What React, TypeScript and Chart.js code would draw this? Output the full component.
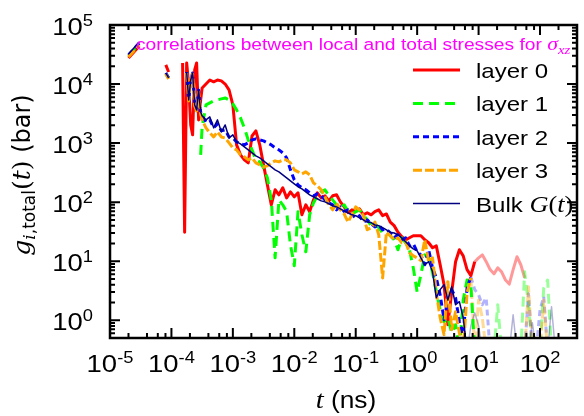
import React, { useEffect, useRef } from "react";
import { Chart, registerables } from "chart.js";

Chart.register(...registerables);

// ---------- data (time in ns, correlation in bar) ----------
const timeNs = [
  2.0e-5, 3.0e-5, 4.0e-5, 8.1e-5, 9.0e-5, 1.2e-4,
  1.52e-4, 1.64e-4, 1.77e-4, 1.91e-4, 2.06e-4, 2.21e-4, 2.39e-4, 2.57e-4, 2.77e-4, 2.99e-4,
  3.16e-4, 3.65e-4, 4.22e-4, 4.87e-4, 5.62e-4, 6.49e-4, 7.5e-4, 8.66e-4,
  1.0e-3, 1.15e-3, 1.33e-3, 1.54e-3, 1.78e-3, 2.05e-3, 2.37e-3, 2.74e-3, 3.16e-3, 3.65e-3, 4.22e-3, 4.87e-3, 5.62e-3, 6.49e-3, 7.5e-3, 8.66e-3,
  1.0e-2, 1.15e-2, 1.33e-2, 1.54e-2, 1.78e-2, 2.05e-2, 2.37e-2, 2.74e-2, 3.16e-2, 3.65e-2, 4.22e-2, 4.87e-2, 5.62e-2, 6.49e-2, 7.5e-2, 8.66e-2,
  0.1, 0.115, 0.133, 0.154, 0.178, 0.205, 0.237, 0.274, 0.316, 0.365, 0.422, 0.487, 0.562, 0.649, 0.75, 0.866,
  1.0, 1.15, 1.33, 1.54, 1.78, 2.05, 2.37, 2.74, 3.16, 3.65, 4.22, 4.87, 5.62, 6.49, 7.5, 8.66,
];

const layer0 = [
  27700, 44200, null, 21100, 16000, null,
  22800, 31, 22800, 9660, 2030, 1380, 17300, 22800, 2470, 5390,
  8590, 10000, 11700, 10900, 11700, 11300, 10000, 7950,
  4430, 933, 631, 520, 462, 1320, 1610, 933, 428, 196, 90, 162, 133, 175, 118, 149,
  123, 144, 61, 90, 69, 109, 144, 118, 128, 105, 128, 133, 101, 83, 66, 74,
  69, 77, 61, 66, 61, 69, 74, 59, 63, 46, 40, 31, 26, 23, 24.9, 27,
  27, 27, 23, 20.5, 16.9, 18.2, 8.7, 4.0, 0.84, 3.0, 9.8, 15.6, 12.3, 7.2, 5.7, 9.8,
];

const layer1 = [
  29900, 47700, null, 14800, 12700, null,
  null, null, null, null, null, null, null, null, null, 631,
  1880, 4430, 4790, 5180, 5390, 5600, 5820, 5390,
  4610, 3650, 2670, 1810, 1130, 767, 520, 481, 380, 258, 109, 11.4, 109, 90, 69, 18.9,
  8.4, 69, 28, 14.4, 61, 97, 128, 149, 162, 128, 109, 90, 80, 90, 69, 63,
  69, 74, 61, 50, 40, 43, 37, 30, 31, 27, 23, 15.6, 24.9, 20.5, 15.6, 7.7,
  3.0, 5.9, 12.8, 11.4, 6.4, 3.0, 1.5, 0.94, 1.1, 0.61, 0.84, 0.3, 2.2, 4.8, 3.8, 0.3,
];

const layer2 = [
  31000, 49600, null, 15400, 12700, null,
  null, null, 16000, 5390, 11700, 15400, 4430, 3650, 7950, 3370,
  2890, 2290, 2470, 1810, 2110, 1610, 1670, 1270,
  1220, 1050, 970, 933, 1010, 1130, 1180, 1130, 1090, 1010, 933, 830, 767, 682, 562, 352,
  238, 196, 175, 162, 144, 128, 138, 128, 109, 97, 90, 74, 83, 69, 74, 61,
  54, 59, 46, 50, 43, 38, 41, 34, 35, 30, 24.9, 28, 23, 24.9, 18.2, 19.7,
  14.4, 12.8, 8.7, 15.6, 7.7, 5.2, 2.7, 1.02, 2.2, 3.3, 2.4, 0.94, 0.57, 3.5, 5.4, null,
];

const layer3 = [
  28800, 45900, null, 14800, 12200, null,
  null, null, 15400, 5180, 11300, 14800, 4260, 3510, 7350, 3120,
  2470, 1810, 1490, 1270, 1550, 1270, 1220, 1010,
  830, 767, 631, 584, 520, 562, 462, 428, 395, 411, 462, 500, 481, 520, 520, 462,
  352, 326, 301, 326, 290, 212, 189, 162, 123, 90, 74, 97, 74, 63, 46, 61,
  83, 74, 59, 34, 37, 46, 28, 5.2, 31, 27, 23, 24.9, 20.5, 21.3, 13.9, 12.3,
  11.4, 10.2, 23, 9.8, 11.4, 2.9, 1.1, 0.57, 4.5, 0.69, 1.39, 0.61, 0.3, 2.9, 5.2, null,
];

const bulkG = [
  32300, 51500, null, 15400, 12700, null,
  null, null, 16000, 5390, 11700, 15400, 4430, 3650, 7950, 3370,
  2890, 2470, 2780, 1810, 2470, 1550, 2030, 1220,
  1380, 1050, 970, 863, 767, 682, 607, 562, 500, 445, 395, 352, 326, 290, 258, 229,
  204, 182, 168, 149, 133, 123, 114, 105, 101, 94, 87, 83, 77, 71, 66, 61,
  59, 54, 50, 46, 45, 41, 40, 37, 34, 31, 30, 28, 24.9, 21.3, 18.2, 16.2,
  15.0, 11.4, 8.7, 9.8, 6.6, 2.4, 3.3, 4.0, 2.2, 3.7, 1.83, 2.06, 1.1, 0.3, null, null,
];

// long-time (poorly converged) tails, drawn faded
const tailTimeNs = [
  6.49, 7.5, 8.66, 10, 11.5, 13.3, 15.4, 17.8, 20.5, 23.7, 27.4, 31.6, 36.5,
  42.2, 48.7, 56.2, 64.9, 75, 86.6, 100, 115, 133, 154, 178, 205,
];
const layer0Tail = [null, null, 9.8, 11.4, 12.8, 9.8, 7.2, 6.1, 7.7, 6.6, 4.8, 4.1, 7.2, 11.9, 8.7, 5.2, null, null, null, null, null, null, null, null, null];
const layer1Tail = [null, null, 0.3, 0.3, 0.3, 0.3, 0.3, 0.3, 1.83, 0.3, 0.3, 0.3, 0.3, 0.3, 0.3, 6.6, 1.83, 0.3, 0.3, 0.3, 3.5, 4.8, 0.3, null, null];
const layer2Tail = [null, 5.4, 3.3, 2.7, 1.83, 2.4, 0.3, 0.3, 0.3, 0.3, 0.3, 0.3, 0.3, 0.3, 0.3, 0.3, 2.8, 0.3, 0.3, 1.5, 2.5, 0.3, 0.3, null, null];
const layer3Tail = [null, 5.2, 0.3, 2.2, 1.1, 0.3, 0.3, 0.3, 0.3, 0.3, 0.3, 0.3, 0.3, 0.3, 0.3, 0.3, 3.7, 0.3, 0.3, 0.3, 2.2, 0.3, null, null, null];
const bulkTail = [0.3, 0.81, 1.34, 0.81, 0.3, 0.3, 0.3, 0.3, 0.3, 0.3, 0.3, 0.3, 1.24, 0.3, 0.3, 0.3, 0.3, 0.91, 0.3, 0.3, 0.3, 0.3, 1.69, 0.3, null];

const xTickExponents = [-5, -4, -3, -2, -1, 0, 1, 2];
const yTickExponents = [0, 1, 2, 3, 4, 5];
const xMinorMultipliers = [2, 4, 6, 8];
const yMinorMultipliers = [2, 3, 4, 5, 6, 7, 8, 9];
const seriesLabels = ["layer 0", "layer 1", "layer 2", "layer 3", "Bulk "];
const titleText = "correlations between local and total stresses for ";

// ---------- styles ----------
const SANS = '"Liberation Sans", Arial, sans-serif';
const MATH = '"Liberation Serif", serif';
const DSANS = '"DejaVu Sans", sans-serif';
const DSERIF = '"DejaVu Serif", serif';
const SX = 1.145; // horizontal stretch of the text in the picture
const seriesStyles = [
  { color: "#ff0000", faded: "rgba(255,0,0,0.4)", dash: [] as number[], width: 3 },
  { color: "#00ff00", faded: "rgba(0,255,0,0.4)", dash: [10, 6], width: 3 },
  { color: "#0000ff", faded: "rgba(0,0,255,0.3)", dash: [6, 4], width: 3 },
  { color: "#ffa500", faded: "rgba(255,165,0,0.4)", dash: [9, 3], width: 3 },
  { color: "#000080", faded: "rgba(0,0,128,0.3)", dash: [] as number[], width: 1.5 },
];

type Run = { t: string; font: string; dy?: number };

function runsWidth(ctx: CanvasRenderingContext2D, runs: Run[], sx = 1) {
  let w = 0;
  for (const r of runs) {
    ctx.font = r.font;
    w += ctx.measureText(r.t).width;
  }
  return w * sx;
}
function drawRuns(ctx: CanvasRenderingContext2D, runs: Run[], x: number, y: number, sx = 1) {
  ctx.save();
  ctx.translate(x, y);
  ctx.scale(sx, 1);
  let cx = 0;
  for (const r of runs) {
    ctx.font = r.font;
    ctx.fillText(r.t, cx, r.dy || 0);
    cx += ctx.measureText(r.t).width;
  }
  ctx.restore();
  return x + cx * sx;
}

const overlay = {
  id: "overlay",
  afterDraw(chart: any) {
    const ctx: CanvasRenderingContext2D = chart.ctx;
    const xs = chart.scales.x;
    const ys = chart.scales.y;
    const { left, right, top, bottom } = chart.chartArea;
    ctx.save();
    ctx.strokeStyle = "#000";
    ctx.fillStyle = "#000";
    ctx.textBaseline = "alphabetic";
    ctx.textAlign = "left";

    // ticks (inward, mirrored)
    ctx.lineWidth = 2;
    ctx.setLineDash([]);
    ctx.beginPath();
    const xTick = (v: number, len: number) => {
      const p = xs.getPixelForValue(v);
      if (p < left - 0.5 || p > right + 0.5) return;
      ctx.moveTo(p, bottom);
      ctx.lineTo(p, bottom - len);
      ctx.moveTo(p, top);
      ctx.lineTo(p, top + len);
    };
    const yTick = (v: number, len: number) => {
      const p = ys.getPixelForValue(v);
      if (p < top - 0.5 || p > bottom + 0.5) return;
      ctx.moveTo(left, p);
      ctx.lineTo(left + len, p);
      ctx.moveTo(right, p);
      ctx.lineTo(right - len, p);
    };
    for (const e of xTickExponents) {
      xTick(Math.pow(10, e), 10);
      for (const m of xMinorMultipliers) xTick(m * Math.pow(10, e), 5);
    }
    for (const e of [-1, ...yTickExponents]) {
      if (e >= 0) yTick(Math.pow(10, e), 10);
      for (const m of yMinorMultipliers) yTick(m * Math.pow(10, e), 5);
    }
    ctx.stroke();

    // frame
    ctx.lineWidth = 2.5;
    ctx.strokeRect(left, top, right - left, bottom - top);

    // tick labels
    const baseFont = `24px ${SANS}`;
    const expFont = `16px ${SANS}`;
    for (const e of xTickExponents) {
      const p = xs.getPixelForValue(Math.pow(10, e));
      const runs: Run[] = [
        { t: "10", font: baseFont },
        { t: (e < 0 ? "-" : "") + Math.abs(e), font: expFont, dy: -9 },
      ];
      const w = runsWidth(ctx, runs, SX);
      drawRuns(ctx, runs, p - w / 2, 372, SX);
    }
    for (const e of yTickExponents) {
      const p = ys.getPixelForValue(Math.pow(10, e));
      const runs: Run[] = [
        { t: "10", font: baseFont },
        { t: String(e), font: expFont, dy: -9 },
      ];
      const w = runsWidth(ctx, runs, SX);
      drawRuns(ctx, runs, 93 - w, p + 10, SX);
    }

    // axis titles
    const xl: Run[] = [
      { t: "t", font: `italic 25px ${MATH}` },
      { t: " (ns)", font: `23px ${SANS}` },
    ];
    const xlw = runsWidth(ctx, xl, SX);
    drawRuns(ctx, xl, 346 - xlw / 2, 408, SX);

    const yl: Run[] = [
      { t: "g", font: `italic 25px ${DSERIF}` },
      { t: "i", font: `italic 17px ${DSERIF}`, dy: 5 },
      { t: ",total", font: `17px ${DSANS}`, dy: 5 },
      { t: "(", font: `25px ${DSERIF}` },
      { t: "t", font: `italic 25px ${DSERIF}` },
      { t: ")", font: `25px ${DSERIF}` },
      { t: " (bar)", font: `24px ${DSANS}` },
    ];
    const ylw = runsWidth(ctx, yl);
    ctx.save();
    ctx.translate(30, 175);
    ctx.rotate(-Math.PI / 2);
    drawRuns(ctx, yl, -ylw / 2, 0);
    ctx.restore();

    // title
    ctx.fillStyle = "#ff00ff";
    drawRuns(
      ctx,
      [
        { t: titleText, font: `16.8px ${SANS}` },
        { t: "σ", font: `italic 19px ${MATH}` },
        { t: "xz", font: `italic 13px ${MATH}`, dy: 4 },
      ],
      136,
      50,
      SX
    );

    // legend
    ctx.fillStyle = "#000";
    seriesLabels.forEach((label, i) => {
      const st = seriesStyles[i];
      const y = 70 + i * 33.4;
      ctx.save();
      ctx.strokeStyle = st.color;
      ctx.lineWidth = st.width;
      ctx.setLineDash(st.dash);
      ctx.lineCap = "butt";
      ctx.beginPath();
      ctx.moveTo(413, y);
      ctx.lineTo(460, y);
      ctx.stroke();
      ctx.restore();
      const runs: Run[] = [{ t: label, font: `21px ${SANS}` }];
      if (i === 4) {
        runs.push({ t: "G", font: `italic 23px ${MATH}` });
        runs.push({ t: "(", font: `23px ${MATH}` });
        runs.push({ t: "t", font: `italic 23px ${MATH}` });
        runs.push({ t: ")", font: `23px ${MATH}` });
      }
      drawRuns(ctx, runs, 476, y + 8, SX);
    });

    ctx.restore();
  },
};

function toPoints(times: number[], values: (number | null)[]) {
  return times.map((t, i) => ({ x: t, y: values[i] }));
}

export default function App() {
  const ref = useRef<HTMLCanvasElement>(null);
  useEffect(() => {
    const mains = [layer0, layer1, layer2, layer3, bulkG];
    const tails = [layer0Tail, layer1Tail, layer2Tail, layer3Tail, bulkTail];
    const datasets: any[] = [];
    mains.forEach((vals, i) => {
      const st = seriesStyles[i];
      datasets.push({
        label: seriesLabels[i],
        data: toPoints(timeNs, vals),
        borderColor: st.color,
        borderWidth: st.width,
        borderDash: st.dash,
        borderJoinStyle: "round",
        pointRadius: 0,
        fill: false,
        spanGaps: false,
        tension: 0,
        clip: 0,
        order: 5 - i,
      });
    });
    tails.forEach((vals, i) => {
      const st = seriesStyles[i];
      datasets.push({
        label: seriesLabels[i] + " tail",
        data: toPoints(tailTimeNs, vals),
        borderColor: st.faded,
        borderWidth: st.width,
        borderDash: st.dash,
        borderJoinStyle: "round",
        pointRadius: 0,
        fill: false,
        spanGaps: false,
        tension: 0,
        clip: 0,
        order: 20 - i,
      });
    });
    const chart = new Chart(ref.current as HTMLCanvasElement, {
      type: "line",
      data: { datasets },
      options: {
        animation: false,
        responsive: false,
        devicePixelRatio: 1,
        events: [],
        layout: { padding: { left: 110, right: 7, top: 25, bottom: 78 } },
        plugins: {
          legend: { display: false },
          tooltip: { enabled: false },
          title: { display: false },
        },
        scales: {
          x: { type: "logarithmic", min: 1e-5, max: 400, display: false },
          y: { type: "logarithmic", min: 0.5, max: 1e5, display: false },
        },
      } as any,
      plugins: [overlay],
    });
    return () => chart.destroy();
  }, []);
  return (
    <div style={{ position: "absolute", left: 0, top: 0, width: 584, height: 416, background: "#fff" }}>
      <canvas ref={ref} width={584} height={416} style={{ width: 584, height: 416, display: "block" }} />
    </div>
  );
}
